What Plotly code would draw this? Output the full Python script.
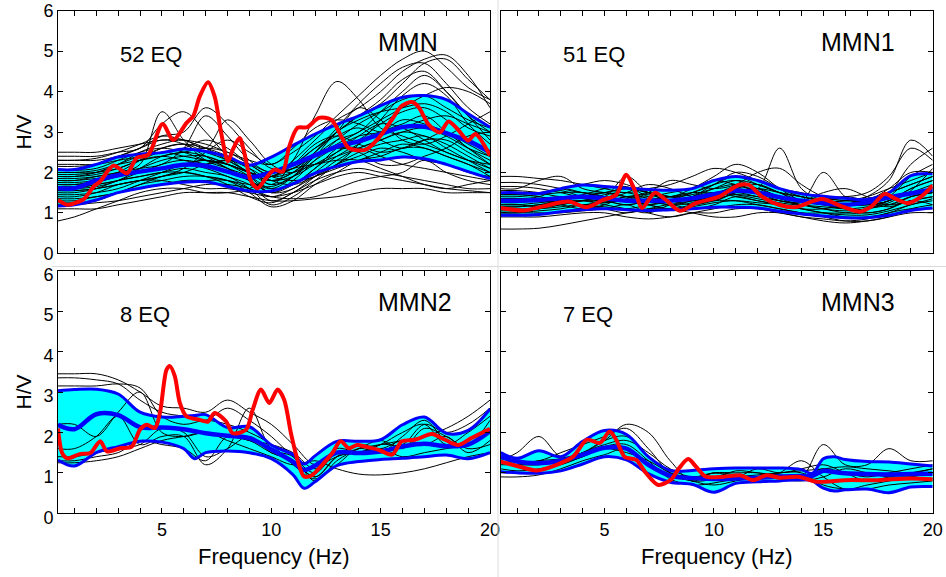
import plotly.graph_objects as go

# Frequency samples (Hz) used for individual event curves
FREQ = [0.25, 1, 2, 3, 4, 5, 6, 7, 8, 9, 10, 11, 12, 13, 14, 15, 16, 17, 18, 19, 20]

# ---------------- MMN (52 events) ----------------
mmn_eq = [
    [2.5, 2.5, 2.5, 2.6, 2.7, 2.8, 2.8, 2.7, 2.5, 2.3, 2.2, 2.5, 2.9, 3.4, 3.9, 4.4, 4.8, 5.0, 4.6, 4.1, 3.8],
    [2.4, 2.4, 2.4, 2.5, 2.6, 3.2, 3.5, 3.0, 2.4, 2.0, 1.9, 2.3, 2.8, 3.3, 3.6, 4.0, 4.5, 4.8, 4.9, 4.4, 3.6],
    [2.3, 2.3, 2.3, 2.4, 2.6, 2.9, 3.0, 3.6, 3.2, 2.6, 2.1, 2.2, 2.6, 3.0, 3.4, 3.7, 4.2, 4.7, 4.8, 4.3, 3.8],
    [2.2, 2.2, 2.2, 2.3, 2.4, 2.6, 2.7, 2.6, 2.4, 2.1, 1.7, 2.3, 3.4, 4.25, 3.8, 3.1, 2.9, 2.7, 2.5, 2.3, 2.2],
    [2.0, 2.0, 2.0, 2.2, 2.5, 2.7, 2.8, 2.6, 3.3, 2.8, 2.2, 2.0, 2.4, 3.0, 3.3, 3.5, 3.6, 3.7, 3.5, 3.1, 2.9],
    [1.9, 1.9, 1.95, 2.1, 2.3, 2.5, 2.4, 2.3, 2.2, 2.0, 1.8, 1.9, 2.2, 2.5, 2.8, 3.2, 3.5, 3.6, 3.3, 2.8, 2.5],
    [1.8, 1.8, 1.9, 2.0, 2.2, 3.5, 2.8, 2.3, 2.1, 1.9, 1.6, 1.7, 2.1, 2.6, 2.9, 3.0, 3.3, 3.2, 3.0, 2.7, 2.4],
    [1.7, 1.7, 1.75, 1.9, 2.0, 2.2, 2.3, 2.2, 2.0, 1.8, 1.5, 1.6, 2.0, 2.4, 2.7, 3.0, 3.2, 3.4, 3.0, 2.6, 2.2],
    [1.6, 1.6, 1.7, 1.8, 2.0, 2.1, 2.2, 2.1, 1.9, 1.7, 1.3, 1.5, 1.9, 2.3, 2.6, 2.8, 3.0, 2.9, 2.7, 2.4, 2.1],
    [1.5, 1.5, 1.6, 1.8, 1.9, 2.0, 2.1, 2.0, 1.9, 1.6, 1.2, 1.4, 1.8, 2.2, 2.5, 2.7, 2.8, 2.9, 2.6, 2.3, 2.0],
    [1.4, 1.4, 1.5, 1.7, 1.8, 1.9, 2.0, 2.2, 2.3, 2.1, 1.8, 1.7, 1.9, 2.1, 2.3, 2.5, 2.7, 2.6, 2.4, 2.2, 2.0],
    [1.3, 1.3, 1.4, 1.5, 1.7, 1.8, 1.9, 1.9, 1.8, 1.5, 1.15, 1.3, 1.7, 2.0, 2.3, 2.4, 2.6, 2.6, 2.4, 2.2, 1.9],
    [1.2, 1.2, 1.25, 1.3, 1.4, 1.5, 1.6, 1.7, 1.7, 1.6, 1.4, 1.35, 1.4, 1.6, 1.8, 1.9, 2.0, 2.3, 2.0, 1.8, 1.7],
    [1.1, 1.1, 1.1, 1.2, 1.3, 1.4, 1.5, 1.5, 1.5, 1.4, 1.3, 1.3, 1.35, 1.4, 1.5, 1.6, 1.6, 1.6, 1.5, 1.5, 1.5],
    [0.8, 0.9, 1.1, 1.3, 1.5, 1.6, 1.6, 1.5, 1.5, 1.6, 1.9, 2.1, 2.2, 2.3, 2.3, 2.1, 1.9, 1.7, 1.6, 1.7, 1.8],
    [1.55, 1.55, 1.6, 1.7, 1.8, 1.9, 2.1, 2.5, 2.8, 2.5, 2.2, 2.6, 3.1, 3.3, 3.2, 3.0, 3.1, 3.3, 3.4, 3.2, 3.0],
    [2.05, 2.05, 2.1, 2.3, 2.5, 2.6, 2.5, 2.3, 2.2, 2.0, 1.9, 2.1, 2.4, 2.6, 2.5, 2.2, 2.2, 2.4, 2.6, 2.9, 3.0],
    [1.85, 1.85, 1.9, 2.0, 2.1, 2.2, 2.6, 3.4, 2.9, 2.3, 2.0, 2.2, 2.6, 2.9, 3.1, 2.8, 2.6, 2.8, 3.0, 2.6, 2.3],
    [1.65, 1.65, 1.7, 1.8, 1.9, 2.0, 2.0, 1.9, 1.8, 1.7, 1.65, 1.9, 2.4, 2.8, 3.0, 3.5, 4.0, 4.4, 4.0, 3.4, 2.8],
    [1.35, 1.35, 1.4, 1.5, 1.6, 1.7, 1.8, 1.8, 1.8, 1.6, 1.4, 1.6, 1.9, 2.2, 2.4, 2.6, 2.5, 2.3, 2.2, 2.0, 1.9],
    [1.75, 1.75, 1.8, 1.9, 2.1, 2.3, 2.4, 2.4, 2.2, 1.9, 1.5, 1.8, 2.3, 2.8, 3.2, 3.5, 3.8, 3.9, 3.6, 3.3, 3.1],
    [1.95, 1.95, 2.0, 2.1, 2.3, 2.4, 2.3, 2.2, 2.3, 2.2, 2.0, 2.1, 2.5, 3.0, 3.6, 3.3, 2.8, 2.7, 2.9, 3.2, 3.5],
    [2.15, 2.15, 2.2, 2.4, 2.6, 2.8, 2.7, 2.4, 2.1, 1.8, 1.6, 1.9, 2.5, 3.1, 3.7, 4.2, 4.6, 4.7, 4.2, 3.6, 3.2],
    [1.45, 1.45, 1.5, 1.6, 1.8, 2.0, 2.2, 2.3, 2.1, 1.8, 1.5, 1.7, 2.1, 2.5, 2.9, 3.2, 3.1, 2.8, 2.5, 2.3, 2.1],
    [1.25, 1.25, 1.3, 1.5, 1.7, 1.9, 2.0, 1.9, 1.7, 1.4, 1.25, 1.5, 1.8, 2.0, 2.1, 2.0, 1.9, 1.8, 1.7, 1.6, 1.6],
    [2.3, 2.3, 2.35, 2.5, 2.7, 2.9, 2.8, 2.6, 2.3, 2.0, 1.8, 2.0, 2.4, 2.7, 3.0, 3.3, 3.6, 3.9, 4.1, 4.0, 3.7],
    [1.7, 1.7, 1.8, 2.0, 2.3, 2.6, 2.7, 2.5, 2.3, 2.0, 1.7, 1.9, 2.3, 2.6, 2.6, 2.4, 2.2, 2.1, 2.0, 1.9, 1.8],
    [1.9, 1.9, 2.0, 2.2, 2.4, 2.5, 2.6, 2.8, 2.6, 2.2, 1.9, 1.8, 1.9, 2.2, 2.7, 3.3, 3.9, 4.2, 3.9, 3.2, 2.7],
    [1.55, 1.55, 1.6, 1.7, 1.8, 1.8, 1.7, 1.6, 1.6, 1.5, 1.4, 1.5, 1.7, 1.9, 2.0, 1.9, 1.8, 1.7, 1.6, 1.55, 1.5],
    [2.0, 2.0, 2.05, 2.2, 2.3, 2.4, 2.5, 2.4, 2.2, 2.0, 1.8, 2.0, 2.5, 3.0, 3.4, 3.8, 4.3, 4.5, 4.0, 3.4, 3.0],
    [1.6, 1.6, 1.65, 1.8, 2.1, 2.4, 2.5, 2.6, 2.5, 2.2, 1.9, 2.0, 2.2, 2.4, 2.6, 2.8, 3.0, 3.1, 2.9, 2.6, 2.4],
    [1.8, 1.8, 1.85, 1.9, 2.0, 2.1, 2.2, 2.3, 2.2, 2.0, 1.9, 2.2, 2.7, 2.9, 2.7, 2.5, 2.6, 2.8, 2.8, 2.5, 2.2],
]
mmn_band_f = FREQ
mmn_mean = [1.61, 1.61, 1.8, 1.93, 2.02, 2.1, 2.19, 2.16, 2.02, 1.88, 2.0, 2.2, 2.42, 2.64, 2.77, 2.95, 3.12, 3.13, 2.97, 2.78, 2.5]
mmn_upper = [2.07, 2.07, 2.2, 2.38, 2.45, 2.49, 2.58, 2.52, 2.39, 2.18, 2.38, 2.67, 2.95, 3.19, 3.4, 3.65, 3.86, 3.9, 3.8, 3.45, 3.12]
mmn_lower = [1.17, 1.2, 1.32, 1.5, 1.61, 1.7, 1.76, 1.77, 1.65, 1.54, 1.54, 1.72, 1.98, 2.15, 2.27, 2.31, 2.38, 2.34, 2.2, 2.02, 1.85]
mmn_ref_f = [0.25, 0.67, 1.0, 1.43, 1.88, 2.18, 2.79, 3.4, 3.85, 4.38, 5.03, 5.52, 6.12, 6.43, 6.73, 7.11,
             7.41, 7.71, 8.02, 8.24, 8.55, 8.77, 9.08, 9.38, 9.76, 10.14, 10.52, 10.82, 11.2, 11.65, 12.18,
             12.75, 13.24, 13.55, 14.3, 14.91, 15.52, 15.97, 16.43, 16.73, 17.2, 17.71, 18.1, 18.5, 19.0,
             19.33, 20.0]
mmn_ref = [1.32, 1.2, 1.24, 1.34, 1.65, 1.78, 2.17, 1.98, 2.36, 2.44, 3.2, 2.8, 3.22, 3.39, 3.88, 4.23,
           3.88, 2.98, 2.27, 2.56, 2.85, 2.48, 1.78, 1.61, 1.86, 2.07, 2.02, 2.64, 3.1, 3.12, 3.35,
           3.3, 2.85, 2.6, 2.56, 2.85, 3.31, 3.65, 3.74, 3.62, 3.18, 2.99, 3.26, 3.08, 2.79,
           2.95, 2.42]

# ---------------- MMN1 (51 events) ----------------
mmn1_eq = [
    [1.9, 1.9, 1.85, 1.8, 1.7, 1.6, 1.5, 1.6, 1.7, 1.9, 2.1, 2.0, 1.8, 1.6, 1.5, 1.4, 1.4, 1.5, 1.9, 2.6, 2.3],
    [1.75, 1.75, 1.7, 1.6, 1.5, 1.5, 1.6, 1.5, 1.4, 1.6, 1.9, 2.2, 2.0, 1.6, 1.3, 1.2, 1.2, 1.4, 1.8, 2.8, 2.4],
    [1.6, 1.6, 1.8, 1.9, 1.6, 1.5, 1.4, 1.4, 1.5, 1.6, 1.8, 1.7, 1.6, 2.6, 1.6, 1.3, 1.2, 1.3, 1.6, 2.0, 2.0],
    [1.5, 1.5, 1.5, 1.6, 1.7, 1.8, 1.7, 1.5, 1.4, 1.5, 1.7, 2.0, 1.9, 1.6, 1.4, 1.3, 1.2, 1.2, 1.4, 1.9, 2.2],
    [1.4, 1.4, 1.45, 1.5, 1.5, 1.4, 1.9, 1.5, 1.3, 1.4, 1.6, 1.8, 1.7, 1.5, 1.3, 2.0, 1.4, 1.2, 1.3, 1.6, 1.8],
    [1.3, 1.3, 1.3, 1.35, 1.4, 1.3, 1.2, 1.3, 1.4, 1.5, 1.5, 1.6, 1.5, 1.4, 1.3, 1.2, 1.1, 1.1, 1.3, 1.5, 1.6],
    [1.2, 1.2, 1.25, 1.3, 1.3, 1.2, 1.1, 1.0, 1.2, 1.3, 1.4, 1.5, 1.4, 1.3, 1.2, 1.1, 1.0, 1.0, 1.1, 1.4, 1.5],
    [1.1, 1.1, 1.1, 1.15, 1.2, 1.1, 1.0, 1.1, 1.2, 1.1, 1.2, 1.4, 1.3, 1.2, 1.1, 1.0, 0.9, 0.9, 1.0, 1.2, 1.3],
    [1.0, 1.0, 1.0, 1.0, 1.05, 1.1, 1.2, 1.0, 0.9, 1.0, 1.1, 1.2, 1.2, 1.1, 1.0, 0.9, 0.8, 0.8, 0.9, 1.1, 1.2],
    [0.9, 0.9, 0.9, 0.95, 1.0, 1.0, 0.9, 0.85, 0.9, 1.0, 1.0, 1.1, 1.1, 1.0, 0.9, 0.8, 0.75, 0.8, 0.9, 1.0, 1.0],
    [0.6, 0.6, 0.62, 0.7, 0.8, 0.9, 1.0, 1.1, 1.1, 1.0, 0.9, 0.9, 1.0, 1.0, 0.9, 0.85, 0.8, 0.85, 1.0, 1.1, 1.1],
    [1.35, 1.35, 1.4, 1.6, 1.5, 1.4, 1.3, 1.5, 1.8, 1.7, 1.6, 1.7, 2.0, 2.1, 1.7, 1.4, 1.3, 1.3, 1.5, 2.2, 2.6],
    [1.25, 1.25, 1.3, 1.2, 1.1, 1.2, 1.4, 1.3, 1.2, 1.3, 1.5, 1.4, 1.3, 1.2, 1.1, 1.1, 1.2, 1.3, 1.5, 1.7, 1.9],
    [1.45, 1.45, 1.4, 1.3, 1.2, 1.3, 1.5, 1.7, 1.6, 1.4, 1.3, 1.5, 1.6, 1.4, 1.3, 1.5, 1.6, 1.4, 1.2, 1.3, 1.4],
    [1.15, 1.15, 1.2, 1.3, 1.4, 1.5, 1.4, 1.2, 1.1, 1.2, 1.3, 1.3, 1.2, 1.1, 1.0, 1.0, 1.0, 1.1, 1.2, 1.4, 1.5],
    [1.55, 1.55, 1.5, 1.4, 1.45, 1.6, 1.65, 1.4, 1.3, 1.4, 1.7, 1.9, 1.7, 1.5, 1.4, 1.3, 1.3, 1.4, 1.6, 1.8, 2.0],
    [1.05, 1.05, 1.1, 1.2, 1.3, 1.3, 1.2, 1.3, 1.4, 1.3, 1.4, 1.6, 1.7, 1.5, 1.3, 1.2, 1.1, 1.0, 1.1, 1.3, 1.2],
    [1.3, 1.3, 1.35, 1.4, 1.35, 1.3, 1.4, 1.45, 1.3, 1.2, 1.3, 1.5, 1.6, 1.5, 1.4, 1.3, 1.2, 1.2, 1.3, 1.6, 1.8],
    [1.45, 1.45, 1.5, 1.55, 1.4, 1.35, 1.3, 1.2, 1.3, 1.5, 1.7, 1.8, 1.6, 1.4, 1.3, 1.25, 1.3, 1.35, 1.5, 1.7, 1.9],
    [1.2, 1.2, 1.15, 1.2, 1.3, 1.25, 1.35, 1.5, 1.4, 1.3, 1.35, 1.45, 1.4, 1.3, 1.2, 1.15, 1.1, 1.15, 1.3, 1.5, 1.7],
    [1.65, 1.65, 1.6, 1.5, 1.4, 1.5, 1.6, 1.5, 1.4, 1.45, 1.6, 1.7, 1.5, 1.3, 1.25, 1.3, 1.4, 1.3, 1.2, 1.4, 1.5],
    [1.0, 1.0, 1.05, 1.1, 1.2, 1.25, 1.3, 1.2, 1.1, 1.15, 1.25, 1.3, 1.25, 1.2, 1.1, 1.0, 0.95, 0.95, 1.05, 1.2, 1.35],
    [1.35, 1.35, 1.3, 1.25, 1.3, 1.45, 1.5, 1.35, 1.2, 1.25, 1.45, 1.65, 1.55, 1.35, 1.2, 1.1, 1.05, 1.1, 1.25, 1.55, 2.1],
    [1.15, 1.15, 1.2, 1.25, 1.2, 1.15, 1.1, 1.2, 1.3, 1.4, 1.5, 1.45, 1.35, 1.25, 1.2, 1.3, 1.35, 1.25, 1.15, 1.3, 1.4],
]
mmn1_band_f = FREQ
mmn1_mean = [1.3, 1.3, 1.32, 1.36, 1.4, 1.36, 1.3, 1.3, 1.3, 1.36, 1.46, 1.55, 1.5, 1.39, 1.3, 1.24, 1.2, 1.26, 1.38, 1.48, 1.58]
mmn1_upper = [1.5, 1.5, 1.48, 1.6, 1.69, 1.65, 1.61, 1.58, 1.56, 1.6, 1.8, 1.9, 1.8, 1.6, 1.47, 1.41, 1.36, 1.33, 1.5, 1.92, 1.97]
mmn1_lower = [0.94, 0.94, 0.96, 1.03, 1.08, 1.1, 1.08, 1.06, 1.08, 1.1, 1.14, 1.14, 1.12, 1.04, 0.97, 0.92, 0.88, 0.88, 0.94, 1.06, 1.12]
mmn1_ref_f = [0.25, 1.29, 2.2, 3.34, 4.17, 4.93, 5.53, 5.99, 6.37, 6.71, 7.3, 7.8, 8.45, 9.17, 10.23, 11.14,
              11.59, 12.2, 12.96, 13.71, 14.93, 15.84, 16.67, 17.2, 17.8, 18.26, 18.87, 19.47, 20.0]
mmn1_ref = [1.12, 1.06, 1.16, 1.28, 1.14, 1.32, 1.45, 1.94, 1.57, 1.12, 1.5, 1.32, 1.05, 1.24, 1.4, 1.69,
            1.69, 1.4, 1.2, 1.14, 1.34, 1.16, 1.03, 1.16, 1.47, 1.36, 1.24, 1.4, 1.68]

# ---------------- MMN2 (8 events) ----------------
mmn2_eq = [
    [3.45, 3.45, 3.45, 3.3, 3.0, 2.65, 2.6, 2.5, 2.8, 2.5, 2.2, 1.7, 1.2, 1.4, 1.6, 1.7, 1.8, 1.9, 2.1, 2.4, 2.8],
    [3.35, 3.35, 3.3, 3.2, 2.8, 2.5, 2.4, 2.3, 2.6, 2.3, 1.9, 1.4, 1.0, 1.5, 1.5, 1.7, 2.0, 2.2, 1.7, 2.0, 2.4],
    [3.15, 3.15, 3.15, 3.2, 3.1, 2.4, 2.2, 2.3, 2.2, 2.0, 1.7, 1.2, 0.85, 1.2, 1.6, 1.5, 1.9, 2.3, 1.8, 1.7, 2.3],
    [2.2, 2.2, 1.9, 2.5, 3.0, 2.0, 1.9, 2.0, 1.9, 1.8, 1.5, 1.3, 0.9, 1.4, 1.7, 1.6, 1.8, 1.7, 1.9, 1.5, 1.8],
    [1.6, 1.6, 1.9, 2.4, 1.7, 1.9, 1.9, 1.2, 1.6, 2.6, 1.6, 1.4, 0.8, 1.3, 1.6, 1.8, 1.6, 2.1, 1.9, 1.6, 1.7],
    [1.3, 1.3, 1.4, 1.5, 1.8, 1.7, 1.6, 1.3, 1.9, 1.8, 1.7, 1.5, 1.1, 1.6, 1.5, 1.6, 1.4, 1.5, 1.6, 1.7, 2.0],
    [1.25, 1.25, 1.3, 1.4, 1.6, 1.8, 1.9, 2.0, 1.8, 1.6, 1.4, 1.2, 1.3, 1.1, 0.97, 0.95, 1.0, 1.1, 1.25, 1.4, 1.5],
    [1.4, 1.4, 1.5, 1.6, 1.7, 2.1, 2.0, 1.4, 1.6, 1.9, 1.5, 1.3, 0.9, 1.4, 1.5, 1.7, 1.7, 2.2, 2.0, 2.2, 2.6],
]
mmn2_band_f = [0.25, 1, 2, 3, 4, 5, 6, 6.5, 7, 8, 9, 10, 11, 11.5, 12, 13, 14, 15, 16, 17, 18, 19, 20]
mmn2_mean = [2.19, 2.08, 2.45, 2.43, 2.13, 2.12, 2.08, 2.03, 1.98, 1.92, 1.86, 1.58, 1.27, 1.07, 1.18, 1.5, 1.49, 1.53, 1.65, 1.72, 1.66, 1.7, 2.03]
mmn2_upper = [3.03, 3.06, 3.07, 2.95, 2.5, 2.38, 2.4, 2.42, 2.44, 2.12, 2.14, 1.69, 1.45, 1.22, 1.42, 1.78, 1.78, 1.82, 2.19, 2.38, 1.98, 2.05, 2.58]
mmn2_lower = [1.32, 1.17, 1.5, 1.65, 1.78, 1.76, 1.6, 1.35, 1.5, 1.54, 1.5, 1.35, 0.95, 0.62, 0.78, 1.18, 1.28, 1.33, 1.36, 1.4, 1.44, 1.35, 1.5]
mmn2_ref_f = [0.25, 0.44, 0.67, 1.28, 1.73, 2.18, 2.49, 3.09, 3.62, 4.0, 4.31, 4.68, 4.91, 5.21, 5.37, 5.59,
              5.82, 6.12, 6.73, 7.11, 7.41, 7.94, 8.24, 8.85, 9.15, 9.53, 9.91, 10.29, 10.59, 10.9, 11.2,
              11.5, 11.88, 12.33, 12.79, 13.17, 13.55, 13.93, 14.3, 14.91, 15.52, 15.97, 16.58, 17.34,
              17.94, 18.55, 19.15, 20.0]
mmn2_ref = [2.1, 1.49, 1.36, 1.47, 1.49, 1.78, 1.53, 1.61, 1.65, 2.07, 2.19, 2.11, 2.48, 3.55, 3.64, 3.39,
            2.73, 2.4, 2.31, 2.27, 2.48, 2.27, 1.98, 2.07, 2.56, 3.06, 2.73, 3.06, 2.81, 1.98, 1.32,
            0.91, 0.95, 1.2, 1.49, 1.78, 1.61, 1.69, 1.65, 1.57, 1.45, 1.78, 1.82, 1.96,
            1.82, 1.69, 1.86, 2.09]

# ---------------- MMN3 (7 events) ----------------
mmn3_eq = [
    [1.3, 1.5, 1.9, 1.4, 1.5, 1.8, 2.2, 2.0, 1.3, 0.8, 1.0, 0.9, 1.1, 1.0, 1.1, 1.2, 1.0, 0.8, 0.9, 1.0, 1.1],
    [1.5, 1.3, 1.3, 1.5, 1.7, 1.9, 2.1, 1.6, 1.0, 0.8, 0.85, 1.05, 1.0, 0.95, 0.9, 1.7, 1.2, 1.2, 1.6, 1.3, 1.3],
    [1.2, 1.2, 1.2, 1.3, 1.5, 1.7, 1.8, 1.5, 1.1, 0.9, 1.0, 0.95, 0.85, 1.0, 1.3, 0.9, 0.6, 0.7, 0.8, 0.9, 1.0],
    [0.9, 0.9, 0.95, 1.1, 1.3, 1.45, 1.6, 1.2, 0.9, 0.85, 1.0, 1.0, 1.0, 0.9, 0.9, 1.1, 1.0, 0.9, 1.0, 1.1, 1.2],
    [1.1, 1.05, 1.1, 1.2, 1.4, 1.6, 1.5, 1.3, 1.0, 0.8, 0.7, 0.8, 0.9, 1.0, 1.0, 0.7, 0.6, 0.6, 0.7, 0.75, 0.8],
    [1.35, 1.3, 1.25, 1.25, 1.4, 1.65, 1.7, 1.3, 0.85, 0.7, 0.75, 0.85, 0.9, 0.85, 0.8, 0.9, 1.1, 1.0, 0.9, 0.9, 0.85],
    [1.4, 1.2, 1.3, 1.35, 1.5, 1.8, 1.9, 1.4, 1.0, 0.9, 0.85, 0.9, 0.95, 1.0, 1.05, 1.1, 1.15, 1.1, 1.05, 1.0, 1.1],
]
mmn3_band_f = [0.25, 1, 2, 3, 4, 5, 6, 7, 8, 9, 10, 11, 12, 13, 14, 14.5, 15, 15.5, 16, 17, 18, 19, 20]
mmn3_mean = [1.4, 1.28, 1.24, 1.3, 1.45, 1.62, 1.6, 1.2, 0.93, 0.87, 0.85, 0.86, 0.88, 0.91, 0.92, 0.93, 1.05, 1.02, 0.99, 0.97, 0.96, 0.97, 0.98]
mmn3_upper = [1.5, 1.36, 1.55, 1.4, 1.78, 2.05, 1.95, 1.4, 1.06, 1.06, 1.1, 1.12, 1.12, 1.12, 1.08, 0.99, 1.35, 1.4, 1.33, 1.28, 1.27, 1.22, 1.17]
mmn3_lower = [1.03, 1.0, 0.99, 1.05, 1.22, 1.4, 1.32, 0.98, 0.77, 0.72, 0.52, 0.74, 0.78, 0.8, 0.83, 0.8, 0.62, 0.55, 0.58, 0.6, 0.51, 0.65, 0.66]
mmn3_ref_f = [0.25, 0.99, 1.9, 2.81, 3.56, 4.2, 4.78, 5.23, 5.53, 5.91, 6.44, 6.9, 7.45, 8.03, 8.41, 8.82,
              9.17, 9.62, 10.38, 11.2, 11.8, 12.4, 13.0, 13.9, 14.7, 16.0, 17.5, 19.0, 20.0]
mmn3_ref = [1.28, 1.17, 1.06, 1.2, 1.4, 1.82, 1.74, 2.02, 1.82, 1.4, 1.32, 0.99, 0.7, 0.83, 1.12, 1.34,
            1.16, 0.91, 0.9, 0.94, 0.82, 0.94, 0.88, 0.9, 0.78, 0.82, 0.82, 0.86, 0.84]

station_names = ["MMN", "MMN1", "MMN2", "MMN3"]
event_labels = ["52 EQ", "51 EQ", "8 EQ", "7 EQ"]

panels = [
    dict(eq=mmn_eq, bf=mmn_band_f, mean=mmn_mean, up=mmn_upper, lo=mmn_lower, rf=mmn_ref_f, ref=mmn_ref),
    dict(eq=mmn1_eq, bf=mmn1_band_f, mean=mmn1_mean, up=mmn1_upper, lo=mmn1_lower, rf=mmn1_ref_f, ref=mmn1_ref),
    dict(eq=mmn2_eq, bf=mmn2_band_f, mean=mmn2_mean, up=mmn2_upper, lo=mmn2_lower, rf=mmn2_ref_f, ref=mmn2_ref),
    dict(eq=mmn3_eq, bf=mmn3_band_f, mean=mmn3_mean, up=mmn3_upper, lo=mmn3_lower, rf=mmn3_ref_f, ref=mmn3_ref),
]

W, H = 946, 577
FONT = "Liberation Sans, Arial, Helvetica, sans-serif"

# Panel boxes in pixels: (left, right, top, bottom)
boxes = [
    (58, 490, 10.7, 253.3),
    (500.7, 932.7, 10.7, 253.3),
    (58, 490, 270.7, 513.3),
    (500.7, 932.7, 270.7, 513.3),
]

fig = go.Figure()

for i, p in enumerate(panels):
    ax = "" if i == 0 else str(i + 1)
    xa, ya = "x" + ax, "y" + ax
    # +/- one standard deviation band
    fig.add_trace(go.Scatter(x=p["bf"], y=p["lo"], mode="lines", xaxis=xa, yaxis=ya,
                             line=dict(width=0, shape="spline", smoothing=1.0),
                             showlegend=False, hoverinfo="skip"))
    fig.add_trace(go.Scatter(x=p["bf"], y=p["up"], mode="lines", xaxis=xa, yaxis=ya,
                             fill="tonexty", fillcolor="#00FFFF",
                             line=dict(width=0, shape="spline", smoothing=1.0),
                             showlegend=False, hoverinfo="skip"))
    # individual earthquake H/V ratios
    for curve in p["eq"]:
        fig.add_trace(go.Scatter(x=FREQ, y=curve, mode="lines", xaxis=xa, yaxis=ya,
                                 line=dict(color="black", width=1, shape="spline", smoothing=1.0),
                                 showlegend=False, hoverinfo="skip"))
    # band edges and mean
    for key, wdt in (("up", 3), ("lo", 3), ("mean", 4.5)):
        fig.add_trace(go.Scatter(x=p["bf"], y=p[key], mode="lines", xaxis=xa, yaxis=ya,
                                 line=dict(color="#0000FF", width=wdt, shape="spline", smoothing=1.0),
                                 showlegend=False, hoverinfo="skip"))
    # reference curve
    fig.add_trace(go.Scatter(x=p["rf"], y=p["ref"], mode="lines", xaxis=xa, yaxis=ya,
                             line=dict(color="#FF0000", width=4, shape="spline", smoothing=0.8),
                             showlegend=False, hoverinfo="skip"))

layout = dict(
    template="none",
    width=W, height=H, margin=dict(l=0, r=0, t=0, b=0, pad=0, autoexpand=False),
    paper_bgcolor="white", plot_bgcolor="white",
    font=dict(family=FONT, size=18, color="black"),
    showlegend=False,
)

for i, (x0, x1, y0, y1) in enumerate(boxes):
    ax = "" if i == 0 else str(i + 1)
    bottom = i >= 2
    left = i % 2 == 0
    layout["xaxis" + ax] = dict(
        domain=[x0 / W, x1 / W], anchor="y" + ax, range=[0.25, 20], automargin=False,
        tickmode="array", tickvals=[5, 10, 15, 20], ticktext=["5", "10", "15", "20"],
        showticklabels=bottom, ticks="inside", ticklen=5, tickcolor="black", tickwidth=1,
        minor=dict(dtick=1, tick0=0, ticks="inside", ticklen=5, tickcolor="black", tickwidth=1,
                   showgrid=False),
        showline=True, linecolor="black", linewidth=1, mirror="ticks",
        showgrid=False, zeroline=False, tickfont=dict(size=18, color="black"),
    )
    layout["yaxis" + ax] = dict(
        domain=[1 - y1 / H, 1 - y0 / H], anchor="x" + ax, range=[0, 6], automargin=False,
        tickmode="array", tickvals=[0, 1, 2, 3, 4, 5, 6],
        showticklabels=left, ticks="inside", ticklen=5, tickcolor="black", tickwidth=1,
        ticklabelshift=(4 if bottom else 0),
        showline=True, linecolor="black", linewidth=1, mirror="ticks",
        showgrid=False, zeroline=False, tickfont=dict(size=18, color="black"),
    )

annotations = []
for i, (x0, x1, y0, y1) in enumerate(boxes):
    annotations.append(dict(text=event_labels[i], x=(x0 + 60) / W, y=1 - (y0 + 44) / H,
                            xref="paper", yref="paper", xanchor="left", yanchor="middle",
                            showarrow=False, font=dict(size=22, color="black")))
    annotations.append(dict(text=station_names[i], x=(x0 + 318) / W, y=1 - (y0 + 31) / H,
                            xref="paper", yref="paper", xanchor="left", yanchor="middle",
                            showarrow=False, font=dict(size=25, color="black")))
    if i % 2 == 0:
        annotations.append(dict(text="H/V", x=22.5 / W, y=1 - ((y0 + y1) / 2) / H,
                                xref="paper", yref="paper", xanchor="center", yanchor="middle",
                                textangle=-90, showarrow=False, font=dict(size=21, color="black")))
    if i >= 2:
        annotations.append(dict(text="Frequency (Hz)", x=((x0 + x1) / 2) / W, y=1 - 556 / H,
                                xref="paper", yref="paper", xanchor="center", yanchor="middle",
                                showarrow=False, font=dict(size=22, color="black")))
layout["annotations"] = annotations

# faint separators between the panel images
layout["shapes"] = [
    dict(type="line", xref="paper", yref="paper", x0=498 / W, x1=498 / W, y0=0, y1=1,
         line=dict(color="#dcdcdc", width=1)),
    dict(type="line", xref="paper", yref="paper", x0=52 / W, x1=1, y0=1 - 266.5 / H, y1=1 - 266.5 / H,
         line=dict(color="#dcdcdc", width=1)),
]

fig.update_layout(**layout)
fig.write_html("out.html")
